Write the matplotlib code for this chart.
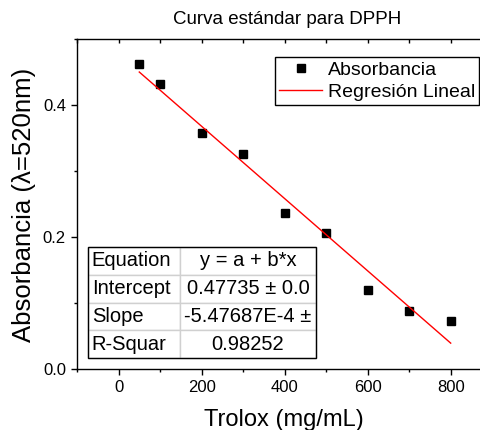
import matplotlib
matplotlib.use("Agg")
import matplotlib.pyplot as plt
from matplotlib.patches import Rectangle
from matplotlib.ticker import MultipleLocator
import numpy as np

plt.rcParams['font.family'] = ['Liberation Sans', 'DejaVu Sans']

# Data
trolox = [50, 100, 200, 300, 400, 500, 600, 700, 800]
absorbancia = [0.4626, 0.4313, 0.357, 0.3253, 0.2359, 0.206, 0.1197, 0.0879, 0.0727]

# Fit parameters shown in the table
intercept = 0.47735
slope = -5.47687e-4
fit_x = [50, 800]

table_rows = [
    ['Equation', 'y = a + b*x'],
    ['Intercept', '0.47735 \u00b1 0.0'],
    ['Slope', '-5.47687E-4 \u00b1'],
    ['R-Squar', '0.98252'],
]

W, H = 481, 430
fig = plt.figure(figsize=(W / 100, H / 100), dpi=100)
ax = fig.add_axes([77 / W, 61 / H, 404 / W, 330 / H])

ax.plot(trolox, absorbancia, 's', color='black', ms=5.5, label='Absorbancia')
fit_y = [intercept + slope * v for v in fit_x]
ax.plot(fit_x, fit_y, '-', color='red', lw=1.0, label='Regresi\u00f3n Lineal')

ax.set_xlim(-100, 873)
ax.set_ylim(0, 0.5)
ax.xaxis.set_major_locator(MultipleLocator(200))
ax.xaxis.set_minor_locator(MultipleLocator(100))
ax.yaxis.set_major_locator(MultipleLocator(0.2))
ax.yaxis.set_minor_locator(MultipleLocator(0.1))
ax.spines['right'].set_visible(False)
for s in ['left', 'bottom', 'top']:
    ax.spines[s].set_linewidth(1.0)
ax.tick_params(which='major', direction='out', length=4.5, width=1.0, labelsize=12)
ax.tick_params(which='minor', direction='out', length=2.5, width=1.0)
ax.tick_params(which='both', top=True, labeltop=False)
ax.set_yticks([0.0, 0.2, 0.4])
ax.set_yticklabels(['0.0', '0.2', '0.4'])

# top ticks point inward
for t in ax.xaxis.get_major_ticks() + ax.xaxis.get_minor_ticks():
    t.tick2line.set_marker(matplotlib.lines.TICKDOWN)
    t.tick2line.set_markersize(3)

leg = ax.legend(loc='upper right', bbox_to_anchor=(0.995, 0.945), borderaxespad=0,
                fontsize=14, numpoints=1, handlelength=2.2, handletextpad=0.3,
                borderpad=0.2, labelspacing=0.25, fancybox=False, framealpha=1)
leg.get_frame().set_edgecolor('black')
leg.get_frame().set_linewidth(1.0)

# fit table
tx0 = (88 - 77) / 404
ty0 = (369 - 358) / 330
tw = 228 / 404
th = 111 / 330
tab = ax.table(cellText=table_rows, colWidths=[92 / 228 * tw, 136 / 228 * tw],
               bbox=[tx0, ty0, tw, th], cellLoc='center')
tab.auto_set_font_size(False)
tab.set_fontsize(14.5)
for (r, c), cell in tab.get_celld().items():
    cell.set_edgecolor('#d0d0d0')
    cell.set_linewidth(1.0)
    cell.set_facecolor('white')
    if c == 0:
        cell.PAD = 0.04
        cell.get_text().set_ha('left')
ax.add_patch(Rectangle((tx0, ty0), tw, th, transform=ax.transAxes, fill=False,
                       edgecolor='black', lw=1.0, zorder=10, clip_on=False))

fig.text(287 / W, 1 - 20 / H, 'Curva est\u00e1ndar para DPPH', ha='center', va='center', fontsize=13.5)
fig.text(284 / W, 4 / H, 'Trolox (mg/mL)', ha='center', va='baseline', fontsize=17)
fig.text(31 / W, 1 - 342 / H, 'Absorbancia (\u03bb=520nm)', rotation=90, rotation_mode='anchor',
         ha='left', va='baseline', fontsize=18.5)

fig.savefig('out.png', dpi=100)
